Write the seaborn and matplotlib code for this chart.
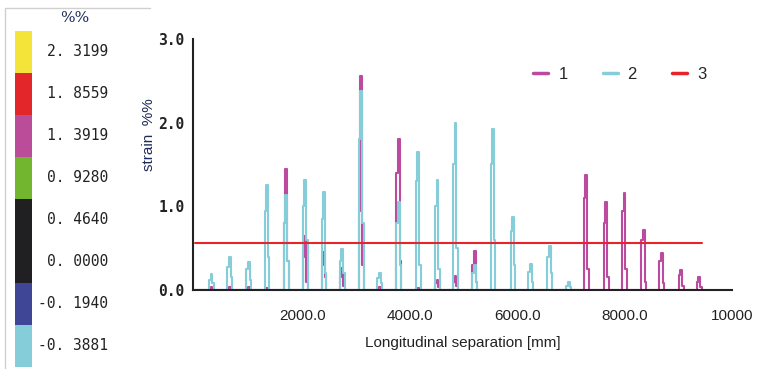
import numpy as np
import pandas as pd
import matplotlib
matplotlib.use('Agg')
import matplotlib.pyplot as plt
from matplotlib.colors import ListedColormap
import seaborn as sns

# colour scale on the left
scale_labels = ['2. 3199', '1. 8559', '1. 3919', '0. 9280', '0. 4640', '0. 0000', '-0. 1940', '-0. 3881']
scale_colors = ['#F4E43A', '#E2262A', '#BA4C9A', '#72B52F', '#202022', '#202022', '#3F4696', '#86CDDA']

# series 2 (cyan) spikes: position [mm], peak strain, left shoulder, right shoulder
s2_pos = [304, 645, 998, 1339, 1699, 2052, 2399, 2740, 3093, 3441,
          3794, 4154, 4514, 4849, 5208, 5549, 5921, 6250, 6603, 6956]
s2_peak = [0.19, 0.39, 0.33, 1.26, 1.13, 1.32, 1.17, 0.49, 2.38, 0.20,
           1.05, 1.65, 1.31, 2.00, 0.30, 1.92, 0.87, 0.31, 0.53, 0.09]
s2_left = [0.12, 0.28, 0.25, 0.95, 0.80, 1.00, 0.85, 0.35, 1.80, 0.14,
           0.80, 1.30, 1.00, 1.50, 0.20, 1.50, 0.70, 0.22, 0.40, 0.05]
s2_right = [0.08, 0.15, 0.12, 0.40, 0.35, 0.60, 0.20, 0.20, 0.80, 0.08,
            0.30, 0.30, 0.25, 0.50, 0.10, 0.60, 0.30, 0.10, 0.20, 0.03]

# series 1 (magenta) spikes
s1_pos = [304, 645, 998, 1339, 1699, 2052, 2399, 2740, 3093, 3441, 3794,
          4154, 4514, 4849, 5208, 7285, 7657, 7998, 8357, 8692, 9052, 9393]
s1_peak = [0.03, 0.03, 0.03, 0.02, 1.45, 0.65, 0.45, 0.26, 2.56, 0.03, 1.81,
           0.02, 0.12, 0.17, 0.47, 1.37, 1.05, 1.16, 0.72, 0.44, 0.24, 0.15]
s1_left = [0.02, 0.02, 0.02, 0.01, 0.80, 0.40, 0.30, 0.15, 0.95, 0.02, 1.40,
           0.01, 0.08, 0.10, 0.30, 1.10, 0.80, 0.95, 0.60, 0.35, 0.18, 0.10]
s1_right = [0.01, 0.01, 0.01, 0.01, 0.35, 0.10, 0.15, 0.05, 0.30, 0.01, 0.35,
            0.01, 0.03, 0.05, 0.10, 0.25, 0.15, 0.25, 0.10, 0.08, 0.05, 0.03]

# series 3: threshold line
s3_x = [0, 9436]
s3_y = [0.56, 0.56]

xticks = [2000, 4000, 6000, 8000, 10000]
xticklabels = ['2000.0', '4000.0', '6000.0', '8000.0', '10000']


def spikes(pos, peak, left, right, x_end):
    # outline each spike as a narrow stepped tower on a zero baseline
    xs, ys = [0], [0]
    for c, h, a, b in zip(pos, peak, left, right):
        xs += [c - 45, c - 45, c - 18, c - 18, c + 18, c + 18, c + 45, c + 45]
        ys += [0, a, a, h, h, b, b, 0]
    xs.append(x_end)
    ys.append(0)
    return xs, ys


x1, y1 = spikes(s1_pos, s1_peak, s1_left, s1_right, 9500)
x2, y2 = spikes(s2_pos, s2_peak, s2_left, s2_right, 7100)
df = pd.concat([
    pd.DataFrame({'x': x1, 'y': y1, 'series': '1'}),
    pd.DataFrame({'x': x2, 'y': y2, 'series': '2'}),
    pd.DataFrame({'x': s3_x, 'y': s3_y, 'series': '3'}),
], ignore_index=True)

sns.set_style('white')
fig = plt.figure(figsize=(7.62, 3.69), dpi=100)
ax = fig.add_axes([193 / 762, 1 - 290 / 369, 539 / 762, 251 / 369])

palette = {'1': '#BC4A9E', '2': '#86CDDA', '3': '#E8242A'}
sns.lineplot(data=df, x='x', y='y', hue='series', palette=palette, sort=False,
             estimator=None, linewidth=1.5, ax=ax)

ax.set_xlim(-40, 10000)
ax.set_ylim(0, 3.0)
ax.set_xticks(xticks)
ax.set_xticklabels(xticklabels, fontsize=11, family='Liberation Sans')
ax.set_yticks([0, 1, 2, 3])
ax.set_yticklabels(['0.0', '1.0', '2.0', '3.0'], fontsize=10.5,
                   family='DejaVu Sans Mono', fontweight='bold')
ax.set_yticks([0.5, 1.5, 2.5], minor=True)
ax.tick_params(axis='both', which='both', direction='inout', length=8, width=1.2, colors='#222222')
ax.tick_params(axis='x', pad=10, labelcolor='#222222')
ax.tick_params(axis='y', pad=2, labelcolor='#222222')
for s in ['top', 'right']:
    ax.spines[s].set_visible(False)
for s in ['left', 'bottom']:
    ax.spines[s].set_linewidth(1.5)
    ax.spines[s].set_color('#222222')
ax.set_xlabel('Longitudinal separation [mm]', fontsize=11, family='Liberation Sans',
              color='#222222', labelpad=9)
ax.set_ylabel('strain  %%', fontsize=11, family='Liberation Sans', color='#1E2B5A')
ax.yaxis.set_label_coords(-0.068, 0.62)

handles, labels = ax.get_legend_handles_labels()
for h in handles:
    h.set_linewidth(2.5)
ax.legend(handles, labels, ncol=3, frameon=False, loc='upper right',
          bbox_to_anchor=(0.98, 0.95), handlelength=0.9, columnspacing=2.1,
          handletextpad=0.6, prop={'family': 'Liberation Sans', 'size': 12})

# colour scale drawn as a one-column heatmap
cax = fig.add_axes([15 / 762, 1 - 367 / 369, 17 / 762, 336 / 369])
sns.heatmap(np.arange(len(scale_colors)).reshape(-1, 1), cmap=ListedColormap(scale_colors),
            cbar=False, xticklabels=False, yticklabels=False, ax=cax)
for i, lab in enumerate(scale_labels):
    fig.text(108 / 762, 1 - (30.7 + 42 * (i + 0.5)) / 369, lab, ha='right', va='center',
             fontsize=10.5, family='DejaVu Sans Mono', color='#222222')
fig.text(75 / 762, 1 - 18 / 369, '%%', ha='center', va='center', fontsize=11,
         family='DejaVu Serif', color='#1E2B5A')
fig.add_artist(plt.Line2D([5 / 762, 5 / 762, 150 / 762], [0, 1 - 8 / 369, 1 - 8 / 369],
                          color='#D0D0D0', linewidth=1, transform=fig.transFigure))

fig.savefig('out.png', dpi=100)
